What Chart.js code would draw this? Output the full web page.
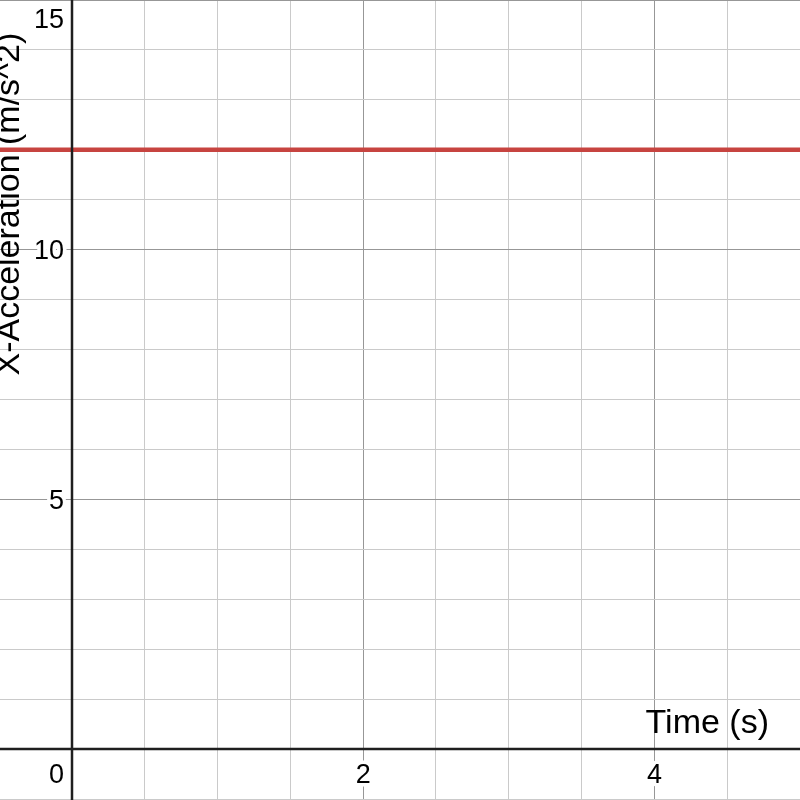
<!DOCTYPE html>
<html>
<head>
<meta charset="utf-8">
<script src="https://cdn.jsdelivr.net/npm/chart.js@4"></script>
<style>
html,body{margin:0;padding:0;background:#fff;}
#wrap{width:800px;height:800px;position:relative;}
</style>
</head>
<body>
<div id="wrap"><canvas id="c" width="800" height="800"></canvas></div>
<script>
// ---- data ----
const timeValues = [-0.5, 5.0];
const accelValues = [12, 12];
const xTickLabels = [2, 4];
const yTickLabels = [5, 10, 15];
const originLabel = '0';
const xTitle = 'Time (s)';
const yTitle = 'X-Acceleration (m/s^2)';
const xRange = [-0.4945, 5.0];
const yRange = [-1.02, 15.0];
const xMinorStep = 0.5, xMajorStep = 2;
const yMinorStep = 1, yMajorStep = 5;

const FONT = '"Liberation Sans", Arial, sans-serif';
const MINOR = '#cacaca', MAJOR = '#979797', AXIS = '#1f1f1f';

function isMult(v, s) { const r = v / s; return Math.abs(r - Math.round(r)) < 1e-6; }

function buildTicks(min, max, step) {
  const out = [];
  const start = Math.ceil(min / step - 1e-9);
  const end = Math.floor(max / step + 1e-9);
  for (let i = start; i <= end; i++) out.push({ value: +(i * step).toFixed(6) });
  return out;
}

function gridColor(minor, major) {
  return (ctx) => {
    const v = ctx.tick ? ctx.tick.value : NaN;
    if (!isFinite(v) || Math.abs(v) < 1e-9) return 'rgba(0,0,0,0)';
    if (isMult(v, major)) return MAJOR;
    if (isMult(v, minor)) return MINOR;
    return 'rgba(0,0,0,0)';
  };
}

const overlay = {
  id: 'desmosOverlay',
  afterDatasetsDraw(chart) {
    const { ctx, chartArea: a, scales: { x, y } } = chart;
    const x0 = Math.round(x.getPixelForValue(0));
    const y0 = Math.round(y.getPixelForValue(0));
    ctx.save();
    // axes
    ctx.strokeStyle = AXIS;
    ctx.lineWidth = 2.5;
    ctx.beginPath();
    ctx.moveTo(a.left, y0); ctx.lineTo(a.right, y0);
    ctx.moveTo(x0, a.top); ctx.lineTo(x0, a.bottom);
    ctx.stroke();

    // tick labels with white halo
    const fs = 27;
    ctx.font = fs + 'px ' + FONT;
    ctx.lineJoin = 'round';
    ctx.lineWidth = 7;
    ctx.strokeStyle = '#ffffff';
    ctx.fillStyle = '#000000';
    ctx.textBaseline = 'alphabetic';
    const digitHalf = 0.358 * fs;
    function label(txt, px, cy, align) {
      ctx.textAlign = align;
      ctx.strokeText(txt, px, cy + digitHalf);
      ctx.fillText(txt, px, cy + digitHalf);
    }
    const labelRight = x0 - 8;
    yTickLabels.forEach(v => {
      let cy = y.getPixelForValue(v);
      cy = Math.max(cy, a.top + 18);
      label(String(v), labelRight, cy, 'right');
    });
    const xLabelY = y0 + 24;
    xTickLabels.forEach(v => {
      label(String(v), x.getPixelForValue(v), xLabelY, 'center');
    });
    label(originLabel, labelRight, xLabelY, 'right');

    // axis titles
    ctx.font = '34px ' + FONT;
    ctx.fillStyle = '#000000';
    ctx.textAlign = 'right';
    ctx.textBaseline = 'alphabetic';
    ctx.fillText(xTitle, a.right - 31, y0 - 16);

    ctx.save();
    ctx.translate(a.left + 19, y.getPixelForValue(7.5) + 1);
    ctx.rotate(-Math.PI / 2);
    ctx.textAlign = 'left';
    ctx.fillText(yTitle, 0, 0);
    ctx.restore();

    ctx.restore();
  }
};

new Chart(document.getElementById('c').getContext('2d'), {
  type: 'line',
  data: {
    datasets: [{
      label: 'X-Acceleration',
      data: timeValues.map((t, i) => ({ x: t, y: accelValues[i] })),
      borderColor: '#c74440',
      borderWidth: 4.5,
      pointRadius: 0,
      fill: false,
      tension: 0
    }]
  },
  options: {
    responsive: false,
    animation: false,
    events: [],
    layout: { padding: 0 },
    plugins: { legend: { display: false }, tooltip: { enabled: false }, title: { display: false } },
    scales: {
      x: {
        type: 'linear',
        min: xRange[0], max: xRange[1],
        afterBuildTicks: (s) => { s.ticks = buildTicks(xRange[0], xRange[1], xMinorStep); },
        ticks: { display: false },
        border: { display: false },
        grid: { drawTicks: false, tickLength: 0, lineWidth: 1, color: gridColor(xMinorStep, xMajorStep) }
      },
      y: {
        type: 'linear',
        min: yRange[0], max: yRange[1],
        afterBuildTicks: (s) => { s.ticks = buildTicks(yRange[0], yRange[1], yMinorStep); },
        ticks: { display: false },
        border: { display: false },
        grid: { drawTicks: false, tickLength: 0, lineWidth: 1, color: gridColor(yMinorStep, yMajorStep) }
      }
    }
  },
  plugins: [overlay]
});
</script>
</body>
</html>
